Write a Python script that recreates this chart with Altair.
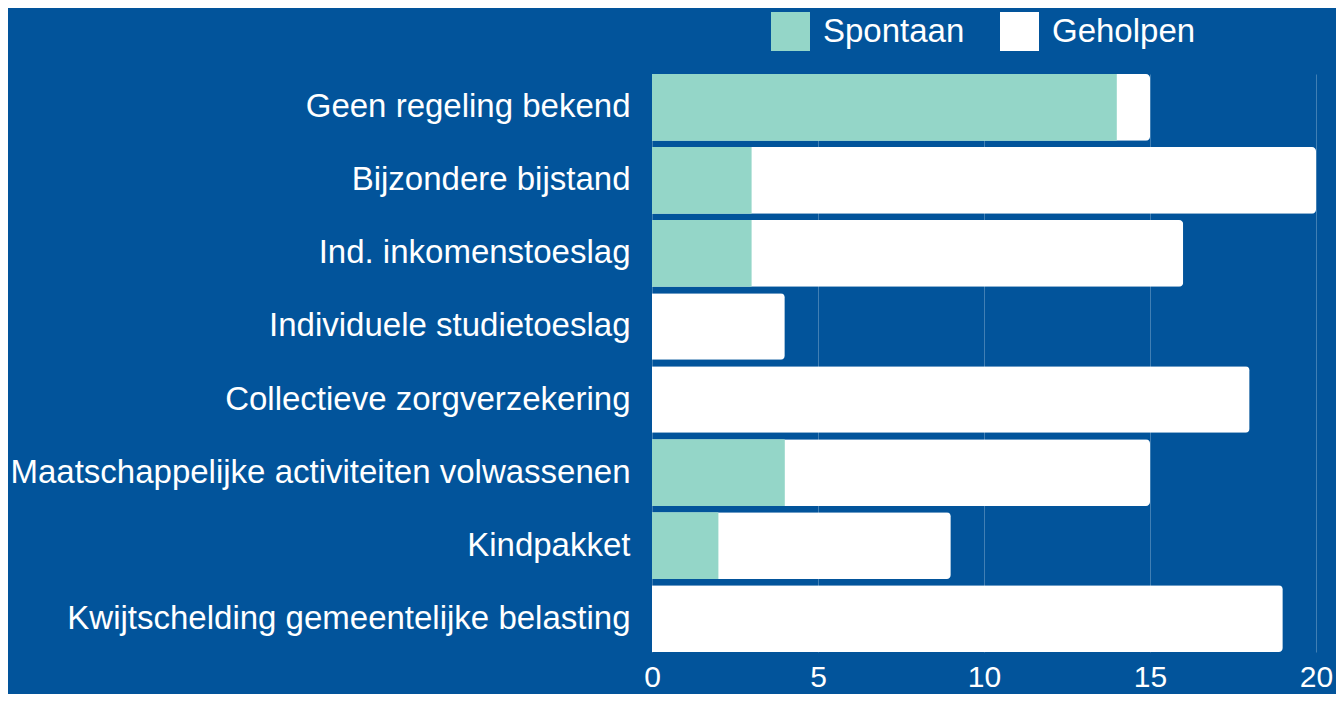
import altair as alt
import pandas as pd

categories = [
    "Geen regeling bekend",
    "Bijzondere bijstand",
    "Ind. inkomenstoeslag",
    "Individuele studietoeslag",
    "Collectieve zorgverzekering",
    "Maatschappelijke activiteiten volwassenen",
    "Kindpakket",
    "Kwijtschelding gemeentelijke belasting",
]
spontaan = [14, 3, 3, 0, 0, 4, 2, 0]
geholpen = [1, 17, 13, 4, 18, 11, 7, 19]
series_names = ["Spontaan", "Geholpen"]
series_colors = ["#94D6C8", "#FFFFFF"]
x_ticks = [0, 5, 10, 15, 20]

BG = "#02549B"
FONT = "Liberation Sans"

df = pd.DataFrame({"categorie": categories, "spontaan": spontaan, "geholpen": geholpen})

color = alt.Color(
    "reeks:N",
    scale=alt.Scale(domain=series_names, range=series_colors),
    legend=alt.Legend(
        title=None,
        orient="none",
        direction="horizontal",
        legendX=119,
        legendY=-62,
        symbolType="square",
        symbolSize=1521,
        symbolStrokeWidth=0,
        symbolOpacity=1,
        labelFont=FONT,
        labelFontSize=33,
        labelColor="white",
        labelOffset=13,
        columnPadding=35,
        padding=0,
    ),
)

y = alt.Y(
    "categorie:N",
    sort=categories,
    title=None,
    scale=alt.Scale(paddingInner=0.087, paddingOuter=0),
    axis=alt.Axis(
        domain=False,
        ticks=False,
        grid=False,
        labelFont=FONT,
        labelFontSize=33,
        labelColor="white",
        labelPadding=22,
        labelLimit=700,
    ),
)

x_axis = alt.Axis(
    values=x_ticks,
    domain=False,
    ticks=False,
    grid=True,
    gridColor="#FFFFFF",
    gridOpacity=0.25,
    gridWidth=1,
    labelFont=FONT,
    labelFontSize=30,
    labelColor="white",
    labelPadding=10,
    labelFlush=False,
    title=None,
)

total_bars = (
    alt.Chart(df)
    .transform_calculate(totaal="datum.spontaan + datum.geholpen", reeks="'Geholpen'")
    .mark_bar(cornerRadiusTopRight=4, cornerRadiusBottomRight=4)
    .encode(
        x=alt.X("totaal:Q", scale=alt.Scale(domain=[0, 20], nice=False), axis=x_axis),
        y=y,
        color=color,
    )
)

spontaan_bars = (
    alt.Chart(df)
    .transform_calculate(reeks="'Spontaan'")
    .mark_bar()
    .encode(
        x=alt.X("spontaan:Q"),
        y=y,
        color=color,
    )
)

chart = (
    alt.layer(total_bars, spontaan_bars)
    .properties(
        width=664,
        height=578,
        background=BG,
        autosize=alt.AutoSizeParams(type="none"),
        padding={"left": 644, "top": 66, "right": 20, "bottom": 42},
    )
    .configure_view(stroke=None)
)

chart.save("out.html", embed_options={"renderer": "svg", "actions": False})
